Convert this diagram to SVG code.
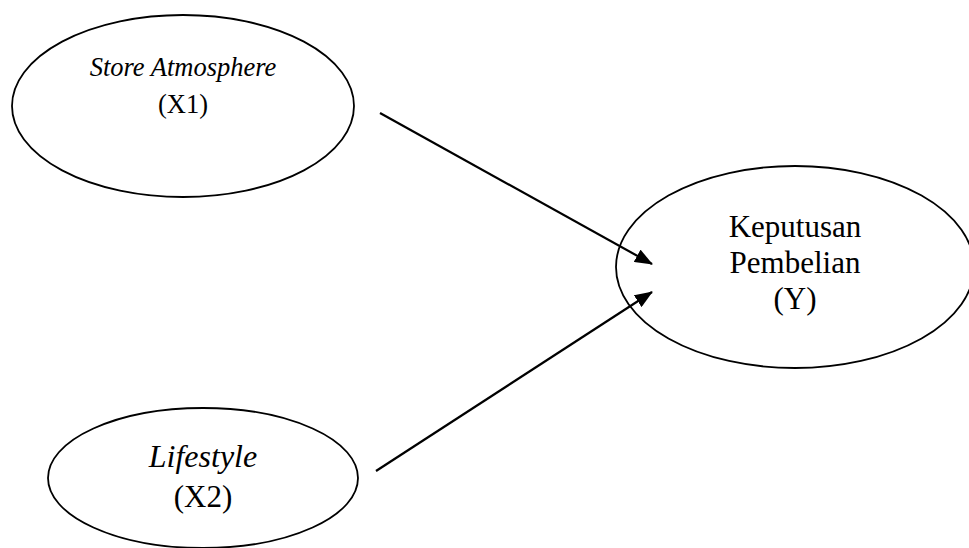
<svg xmlns="http://www.w3.org/2000/svg" width="969" height="548" viewBox="0 0 969 548">
<defs>
<style>
.node ellipse{fill:#fff;stroke:#000;stroke-width:1.8}
text{font-family:"Liberation Serif","Times New Roman",serif;fill:#000;text-anchor:middle}
.it{font-style:italic}
.edge{stroke:#000;stroke-width:2.2;fill:none;marker-end:url(#arr)}
</style>
<marker id="arr" markerUnits="userSpaceOnUse" markerWidth="18" markerHeight="14" refX="17" refY="7" orient="auto" viewBox="0 0 18 14">
<path d="M0,0 L18,7 L0,14 z" fill="#000"/>
</marker>
</defs>
<rect width="969" height="548" fill="#fff"/>
<g id="x1" class="node">
<ellipse cx="183" cy="106" rx="171" ry="91"/>
<text x="183" y="76" class="it" font-size="26.5">Store Atmosphere</text>
<text x="183" y="113" font-size="26.5">(X1)</text>
</g>
<g id="y" class="node">
<ellipse cx="795" cy="267" rx="179" ry="101"/>
<text x="795" y="237" font-size="31">Keputusan</text>
<text x="795" y="273" font-size="31">Pembelian</text>
<text x="795" y="309" font-size="31">(Y)</text>
</g>
<g id="x2" class="node">
<ellipse cx="203" cy="478" rx="155" ry="70"/>
<text x="203" y="467" class="it" font-size="32">Lifestyle</text>
<text x="203" y="507" font-size="31">(X2)</text>
</g>
<g id="connectors">
<line class="edge" x1="380" y1="113" x2="652" y2="264"/>
<line class="edge" x1="376" y1="471" x2="652" y2="292"/>
</g>
</svg>
